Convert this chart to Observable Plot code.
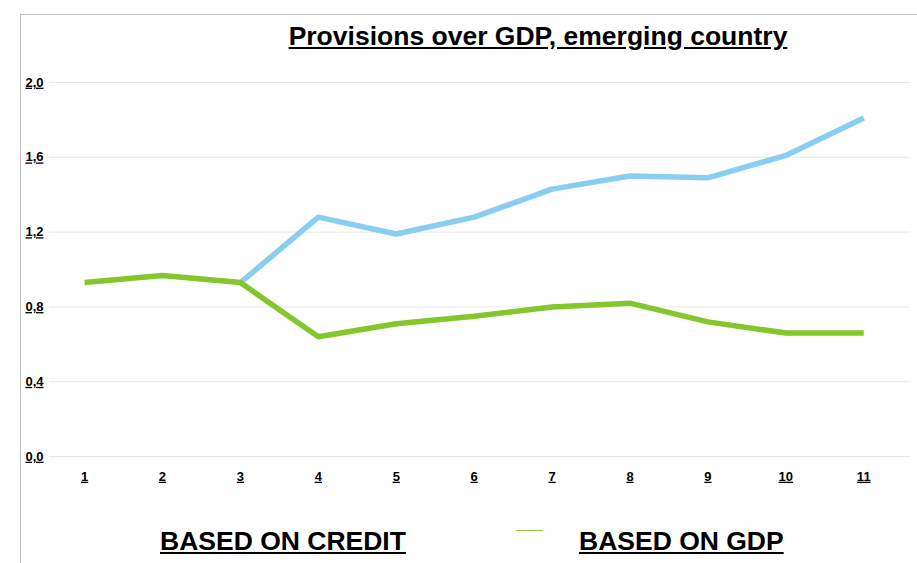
<!DOCTYPE html>
<html><head><meta charset="utf-8">
<script src="https://cdn.jsdelivr.net/npm/d3@7"></script>
<script src="https://cdn.jsdelivr.net/npm/@observablehq/plot@0.6"></script>
<style>
html,body{margin:0;padding:0;background:#fff;}
#wrap{position:relative;width:917px;height:563px;overflow:hidden;font-family:"Liberation Sans",Arial,sans-serif;}
#frame{position:absolute;left:20px;top:14px;width:1000px;height:1000px;border-left:1px solid #c0c0c0;border-top:1px solid #c0c0c0;}
#title{position:absolute;left:0;width:1076px;top:21px;text-align:center;font-weight:bold;font-size:26.5px;text-decoration:underline;color:#000;}
#chart{position:absolute;left:0;top:60px;}
#chart svg text{font-weight:bold;text-decoration:underline;fill:#000;}
.leg{position:absolute;top:526px;font-weight:bold;font-size:26.5px;text-decoration:underline;color:#000;white-space:nowrap;}
#sw{position:absolute;left:516px;top:530px;width:27px;height:1px;background:#8cc63f;}
</style></head>
<body><div id="wrap"><div id="frame"></div><div id="title">Provisions over GDP, emerging country</div><div id="chart"></div>
<div class="leg" id="l1" style="left:160px">BASED ON CREDIT</div><div id="sw"></div><div class="leg" id="l2" style="left:579px">BASED ON GDP</div></div>
<script>
const periods = [1,2,3,4,5,6,7,8,9,10,11];
const basedOnCredit = [0.93,0.968,0.93,0.64,0.71,0.75,0.80,0.82,0.72,0.66,0.66];
const basedOnGdp = [0.93,0.968,0.93,1.28,1.19,1.28,1.43,1.50,1.49,1.61,1.81];
const yTicks = [0,0.4,0.8,1.2,1.6,2.0];
const seriesNames = ["BASED ON CREDIT","BASED ON GDP"];
const colors = ["#84c62b","#87cef0"];

const rows = [];
seriesNames.forEach((s,i)=>{
  const vals = i===0 ? basedOnCredit : basedOnGdp;
  periods.forEach((p,j)=>{
    if (i===1 && j<2) return;
    rows.push({series:s,period:p,value:vals[j]});
  });
});

const chart = Plot.plot({
  width:917, height:440,
  marginLeft:49, marginRight:7, marginTop:22, marginBottom:44,
  style:{fontFamily:"Liberation Sans, Arial, sans-serif",fontSize:"13px",background:"transparent"},
  x:{domain:[0.55,11.6], ticks:periods, tickSize:0, tickPadding:14, tickFormat:d=>String(d), label:null},
  y:{domain:[0,2.0], ticks:yTicks, tickSize:0, tickPadding:6, tickFormat:d=>d.toFixed(1).replace(".",","), label:null},
  color:{domain:seriesNames, range:colors},
  marks:[
    Plot.ruleY(yTicks,{stroke:"#e8e8e8",strokeWidth:1}),
    Plot.axisX({ticks:periods,tickSize:0,tickPadding:15,tickFormat:d=>String(d),label:null}),
    Plot.axisY({ticks:yTicks,tickSize:0,tickPadding:6,tickFormat:d=>d.toFixed(1).replace(".",","),label:null}),
    Plot.line(rows.filter(r=>r.series===seriesNames[1]),{x:"period",y:"value",stroke:"series",strokeWidth:5.5,strokeLinejoin:"miter",strokeLinecap:"butt"}),
    Plot.line(rows.filter(r=>r.series===seriesNames[0]),{x:"period",y:"value",stroke:"series",strokeWidth:5.5,strokeLinejoin:"miter",strokeLinecap:"butt"})
  ]
});
document.getElementById("chart").appendChild(chart);
</script></body></html>
